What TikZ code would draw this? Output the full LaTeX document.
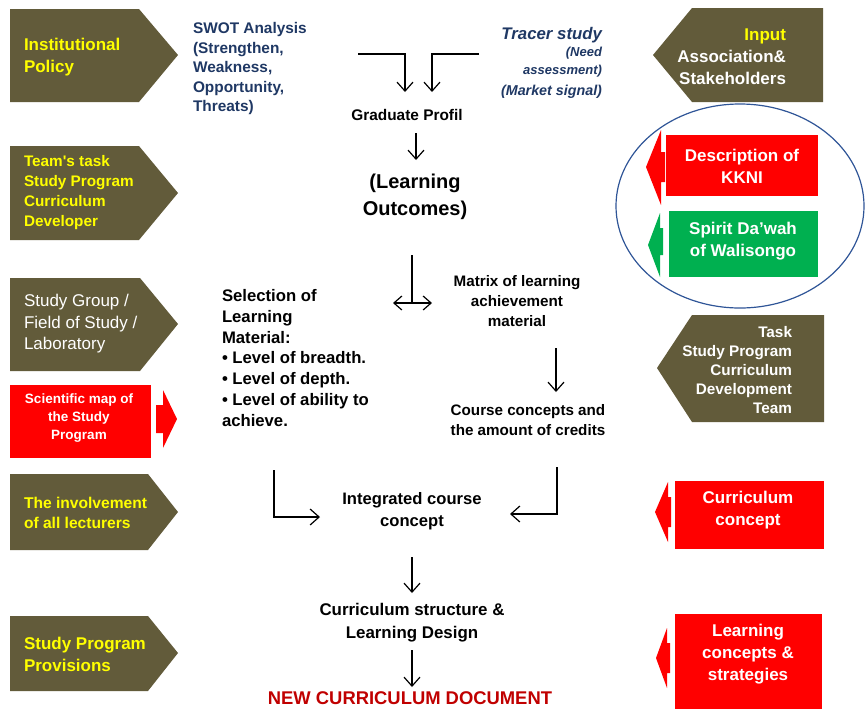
\documentclass[tikz,border=0pt]{standalone}
\usepackage{fontspec}
\setmainfont{Liberation Sans}[Ligatures=TeXOff]
\usetikzlibrary{arrows.meta}
\definecolor{olivebox}{RGB}{98,91,58}
\definecolor{navytext}{RGB}{31,56,100}
\definecolor{redbox}{RGB}{255,0,0}
\definecolor{greenbox}{RGB}{0,176,80}
\definecolor{darkredtext}{RGB}{192,0,0}
\definecolor{ellblue}{RGB}{47,85,151}
\definecolor{yellowtext}{RGB}{255,255,0}
\newcommand{\fs}[2]{\fontsize{#1}{#2}\selectfont}
\begin{document}
\begin{tikzpicture}[x=1pt,y=-1pt,
  every node/.style={inner sep=0pt,outer sep=0pt},
  arr/.style={-{Straight Barb[length=9pt,width=16pt,line width=1.2pt]},line width=1.2pt,black},
  darr/.style={{Straight Barb[length=8pt,width=14pt,line width=1.2pt]}-{Straight Barb[length=8pt,width=14pt,line width=1.2pt]},line width=1.2pt,black},
  plainline/.style={line width=1.2pt,black},
  olv/.style={fill=olivebox},
  boxtxt/.style={font=\bfseries,align=left},
  ctxt/.style={font=\bfseries,align=center,text=black}]
\useasboundingbox (0,0) rectangle (865,710);

% ---------- left column shapes ----------
\fill[olv] (10,9) -- (139,9) -- (178,55) -- (139,102) -- (10,102) -- cycle;
\fill[olv] (10,146) -- (139,146) -- (178,193) -- (139,240) -- (10,240) -- cycle;
\fill[olv] (10,278) -- (140,278) -- (178,324) -- (140,371) -- (10,371) -- cycle;
\fill[redbox] (10,385) rectangle (151,458);
\fill[redbox] (156,405) -- (163,405) -- (163,390) -- (177,419) -- (163,448) -- (163,433) -- (156,433) -- cycle;
\fill[olv] (10,474) -- (148,474) -- (178,512) -- (148,550) -- (10,550) -- cycle;
\fill[olv] (10,616) -- (148,616) -- (178,653) -- (148,691) -- (10,691) -- cycle;

% ---------- right column shapes ----------
\fill[olv] (823,8) -- (692,8) -- (653,55) -- (692,102) -- (823,102) -- cycle;
\draw[ellblue,line width=1.2pt] (740,206) ellipse [x radius=124, y radius=102];
\fill[redbox] (666,135) rectangle (818,196);
\fill[redbox] (665,152) -- (661,152) -- (661,130) -- (646,167) -- (661,205) -- (661,182) -- (665,182) -- cycle;
\fill[greenbox] (669,211) rectangle (818,277);
\fill[greenbox] (663,228) -- (660,228) -- (660,213) -- (648,245) -- (660,277) -- (660,255) -- (663,255) -- cycle;
\fill[olv] (824,315) -- (692,315) -- (657,368) -- (692,422) -- (824,422) -- cycle;
\fill[redbox] (675,481) rectangle (824,549);
\fill[redbox] (671,497) -- (668,497) -- (668,482) -- (655,512) -- (668,542) -- (668,527) -- (671,527) -- cycle;
\fill[redbox] (675,614) rectangle (822,709);
\fill[redbox] (670,643) -- (667,643) -- (667,628) -- (656,658) -- (667,688) -- (667,673) -- (670,673) -- cycle;

% ---------- left column texts ----------
\node[boxtxt,text=yellowtext,font=\bfseries\fs{17}{22},anchor=west] (ip) at (24,57) {Institutional\\Policy};
\node[boxtxt,text=yellowtext,font=\bfseries\fs{15.3}{20},anchor=west] (team) at (24,193) {Team's task\\Study Program\\Curriculum\\Developer};
\node[align=left,text=white,font=\fs{17}{21.5},anchor=west] (sg) at (24,324) {Study Group /\\Field of Study /\\Laboratory};
\node[ctxt,text=white,font=\bfseries\fs{13.5}{18}] (sci) at (79,418) {Scientific map of\\the Study\\Program};
\node[boxtxt,text=yellowtext,font=\bfseries\fs{15.6}{20},anchor=west] (inv) at (24,513) {The involvement\\of all lecturers};
\node[boxtxt,text=yellowtext,font=\bfseries\fs{17}{22},anchor=west] (prov) at (24,654) {Study Program\\Provisions};

% ---------- right column texts ----------
\node[align=right,font=\bfseries\fs{17}{22},text=white,anchor=east] (inp) at (786,57) {\textcolor{yellowtext}{Input}\\Association\&\\Stakeholders};
\node[ctxt,text=white,font=\bfseries\fs{17}{22}] (kkni) at (742,166) {Description of\\KKNI};
\node[ctxt,text=white,font=\bfseries\fs{17}{22}] (spirit) at (743,241) {Spirit Da’wah\\of Walisongo};
\node[align=right,font=\bfseries\fs{15.3}{19},text=white,anchor=east] (task) at (792,370) {Task\\Study Program\\Curriculum\\Development\\Team};
\node[ctxt,text=white,font=\bfseries\fs{17}{22}] (cc) at (748,510) {Curriculum\\concept};
\node[ctxt,text=white,font=\bfseries\fs{17}{22}] (lcs) at (748,654) {Learning\\concepts \&\\strategies};

% ---------- centre texts ----------
\node[align=left,font=\bfseries\fs{15.4}{19.5},text=navytext,anchor=west] (swot) at (193,69) {SWOT Analysis\\(Strengthen,\\Weakness,\\Opportunity,\\Threats)};
\node[font=\bfseries\itshape\fs{16.8}{20},text=navytext,anchor=east] (tracer) at (602,35) {Tracer study};
\node[align=right,font=\bfseries\itshape\fs{13}{18},text=navytext,anchor=east] (need) at (602,62) {(Need\\assessment)};
\node[font=\bfseries\itshape\fs{14.3}{18},text=navytext,anchor=east] (market) at (602,92) {(Market signal)};
\node[ctxt,font=\bfseries\fs{15.4}{19}] (gp) at (407,115) {Graduate Profil};
\node[ctxt,font=\bfseries\fs{20}{27}] (lo) at (415,197) {(Learning\\Outcomes)};
\node[align=left,font=\bfseries\fs{16.7}{20.7},anchor=west] (sel) at (222,358) {Selection of\\Learning\\Material:\\• Level of breadth.\\• Level of depth.\\• Level of ability to\\achieve.};
\node[ctxt,font=\bfseries\fs{15.2}{20}] (mat) at (517,301) {Matrix of learning\\achievement\\material};
\node[ctxt,font=\bfseries\fs{15.2}{20}] (course) at (528,420) {Course concepts and\\the amount of credits};
\node[ctxt,font=\bfseries\fs{16.6}{22}] (integ) at (412,511) {Integrated course\\concept};
\node[ctxt,font=\bfseries\fs{16.9}{23}] (struct) at (412,623) {Curriculum structure \&\\Learning Design};
\node[ctxt,font=\bfseries\fs{18.4}{22},text=darkredtext] (doc) at (410,698) {NEW CURRICULUM DOCUMENT};

% ---------- connectors ----------
\coordinate (swotE) at (358,54);
\coordinate (gpL) at (405,92);
\coordinate (trW) at (479,54);
\coordinate (gpR) at (432,92);
\draw[arr] (swotE) -| (gpL);
\draw[arr] (trW) -| (gpR);

\coordinate (gpS) at (416,133);
\coordinate (loN) at (416,160);
\draw[arr] (gpS) -- (loN);

\coordinate (loS) at (412,255);
\coordinate (split) at (412,303);
\coordinate (selE) at (393,303);
\coordinate (matW) at (432,303);
\draw[plainline] (loS) -- (split);
\draw[darr] (selE) -- (matW);

\coordinate (matS) at (556,348);
\coordinate (courseN) at (556,392);
\draw[arr] (matS) -- (courseN);

\coordinate (selS) at (274,470);
\coordinate (integW) at (320,517);
\draw[arr] (selS) |- (integW);

\coordinate (courseS) at (557,467);
\coordinate (integE) at (510,514);
\draw[arr] (courseS) |- (integE);

\coordinate (integS) at (412,557);
\coordinate (structN) at (412,593);
\draw[arr] (integS) -- (structN);

\coordinate (structS) at (412,650);
\coordinate (docN) at (412,687);
\draw[arr] (structS) -- (docN);
\end{tikzpicture}
\end{document}
